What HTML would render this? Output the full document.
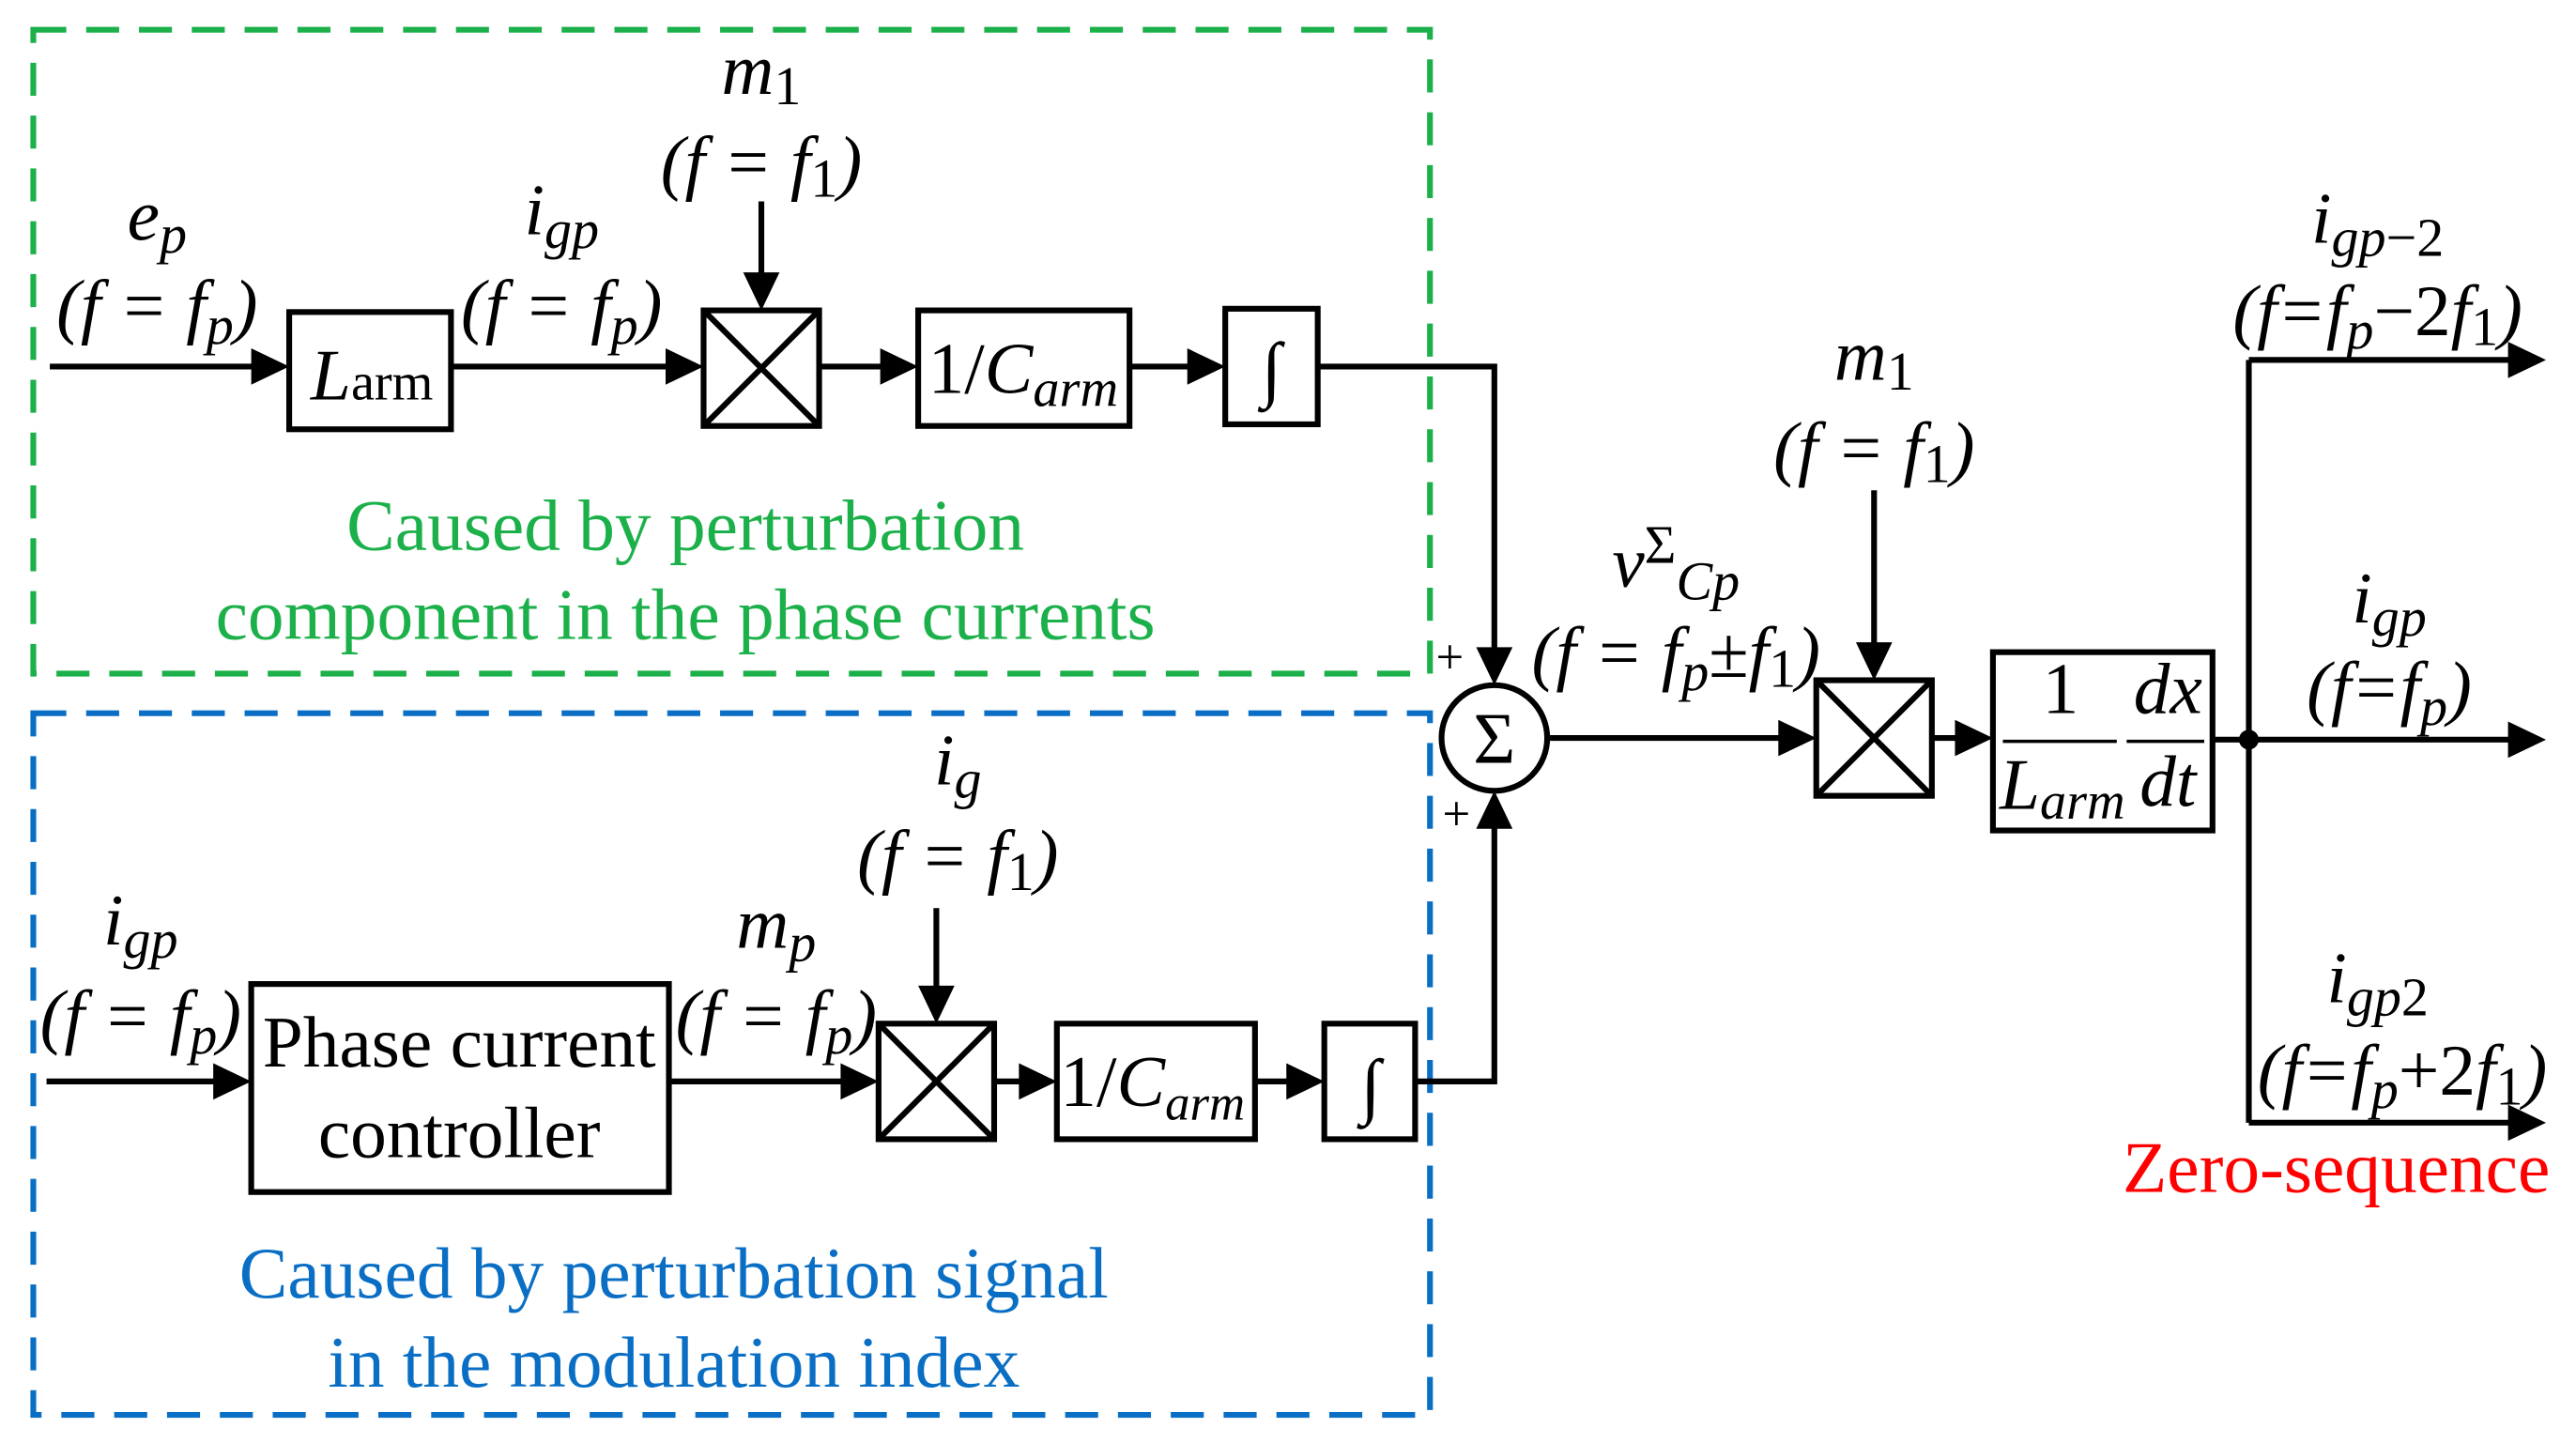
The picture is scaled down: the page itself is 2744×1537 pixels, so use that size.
<!DOCTYPE html>
<html><head><meta charset="utf-8"><style>
html,body{margin:0;padding:0;background:#fff;}
svg{display:block;}
text{font-family:"Liberation Serif",serif;}
.l{font-size:44px;font-style:italic;}
.n{font-size:44px;}
</style></head><body>
<svg width="2744" height="1537" viewBox="0 0 1560 874" xmlns="http://www.w3.org/2000/svg">
<rect width="1560" height="874" fill="#fff"/>
<rect x="20" y="18" width="846" height="390" fill="none" stroke="#1cb04a" stroke-width="3.5" stroke-dasharray="20,12"/>
<rect x="20" y="432" width="846" height="425" fill="none" stroke="#0a6fc4" stroke-width="3.5" stroke-dasharray="20,12"/>

<g stroke="#000" stroke-width="3.5" fill="none">
<line x1="30" y1="222" x2="160" y2="222"/>
<rect x="175" y="189" width="98" height="71"/>
<line x1="273" y1="222" x2="412" y2="222"/>
<rect x="426" y="188" width="70" height="70"/>
<line x1="426" y1="188" x2="496" y2="258"/><line x1="496" y1="188" x2="426" y2="258"/>
<line x1="461" y1="122" x2="461" y2="175"/>
<line x1="496" y1="222" x2="542" y2="222"/>
<rect x="556" y="188" width="128" height="70"/>
<line x1="684" y1="222" x2="728" y2="222"/>
<rect x="742" y="187" width="56" height="70"/>
<polyline points="798,222 905,222 905,400"/>
<line x1="28" y1="655" x2="138" y2="655"/>
<rect x="152" y="596" width="253" height="126"/>
<line x1="405" y1="655" x2="517" y2="655"/>
<rect x="532" y="620" width="70" height="70"/>
<line x1="532" y1="620" x2="602" y2="690"/><line x1="602" y1="620" x2="532" y2="690"/>
<line x1="567" y1="550" x2="567" y2="607"/>
<line x1="602" y1="655" x2="626" y2="655"/>
<rect x="640" y="620" width="120" height="70"/>
<line x1="760" y1="655" x2="788" y2="655"/>
<rect x="802" y="620" width="55" height="70"/>
<polyline points="857,655 905,655 905,494"/>
<circle cx="905" cy="447" r="32"/>
<line x1="937" y1="447" x2="1086" y2="447"/>
<rect x="1100" y="412" width="70" height="70"/>
<line x1="1100" y1="412" x2="1170" y2="482"/><line x1="1170" y1="412" x2="1100" y2="482"/>
<line x1="1135" y1="297" x2="1135" y2="398"/>
<line x1="1170" y1="447" x2="1193" y2="447"/>
<rect x="1207" y="395" width="133" height="108"/>
<line x1="1340" y1="448" x2="1525" y2="448"/>
<line x1="1362" y1="218" x2="1362" y2="680"/>
<line x1="1362" y1="218" x2="1525" y2="218"/>
<line x1="1362" y1="680" x2="1525" y2="680"/>
</g>
<g stroke="#000" stroke-width="2">
<line x1="1213" y1="449" x2="1282" y2="449"/>
<line x1="1288" y1="449" x2="1335" y2="449"/>
</g>
<circle cx="1362" cy="448" r="6" fill="#000"/>
<g fill="#000">
<polygon points="175,222 152,211 152,233"/>
<polygon points="426,222 403,211 403,233"/>
<polygon points="461,188 450,165 472,165"/>
<polygon points="556,222 533,211 533,233"/>
<polygon points="742,222 719,211 719,233"/>
<polygon points="905,415 894,392 916,392"/>
<polygon points="152,655 129,644 129,666"/>
<polygon points="532,655 509,644 509,666"/>
<polygon points="567,620 556,597 578,597"/>
<polygon points="640,655 617,644 617,666"/>
<polygon points="802,655 779,644 779,666"/>
<polygon points="905,479 894,502 916,502"/>
<polygon points="1100,447 1077,436 1077,458"/>
<polygon points="1135,412 1124,389 1146,389"/>
<polygon points="1207,447 1184,436 1184,458"/>
<polygon points="1542,448 1519,437 1519,459"/>
<polygon points="1542,218 1519,207 1519,229"/>
<polygon points="1542,680 1519,669 1519,691"/>
</g>
<text x="188" y="242" class="l">L<tspan font-style="normal" font-size="32">arm</tspan></text>
<text x="562" y="238" class="n">1/<tspan font-style="italic">C</tspan><tspan font-style="italic" font-size="32" dy="8">arm</tspan></text>
<text x="770" y="238" class="l" text-anchor="middle">∫</text>
<text x="642" y="670" class="n">1/<tspan font-style="italic">C</tspan><tspan font-style="italic" font-size="30" dy="8">arm</tspan></text>
<text x="830" y="672" class="l" text-anchor="middle">∫</text>
<text x="278" y="646" class="n" text-anchor="middle">Phase current</text>
<text x="278" y="701" class="n" text-anchor="middle">controller</text>
<text x="905" y="462" class="n" text-anchor="middle">Σ</text>
<text x="1248" y="432" class="n" text-anchor="middle">1</text>
<text x="1211" y="490" class="l">L<tspan font-size="32" dy="6">arm</tspan></text>
<text x="1313" y="432" class="l" text-anchor="middle">dx</text>
<text x="1313" y="488" class="l" text-anchor="middle">dt</text>
<text x="878" y="408" font-size="30" text-anchor="middle">+</text>
<text x="882" y="503" font-size="30" text-anchor="middle">+</text>
<text x="95" y="145" class="l" text-anchor="middle">e<tspan font-size="33" dy="8">p</tspan></text>
<text x="95" y="200" class="l" text-anchor="middle">(f = f<tspan font-size="33" dy="8">p</tspan><tspan dy="-8">)</tspan></text>
<text x="340" y="142" class="l" text-anchor="middle">i<tspan font-size="33" dy="8">gp</tspan></text>
<text x="340" y="200" class="l" text-anchor="middle">(f = f<tspan font-size="33" dy="8">p</tspan><tspan dy="-8">)</tspan></text>
<text x="461" y="57" class="l" text-anchor="middle">m<tspan font-style="normal" font-size="33" dy="6">1</tspan></text>
<text x="461" y="113" class="l" text-anchor="middle">(f = f<tspan font-style="normal" font-size="33" dy="6">1</tspan><tspan dy="-6">)</tspan></text>
<text x="580" y="475" class="l" text-anchor="middle">i<tspan font-size="33" dy="8">g</tspan></text>
<text x="580" y="533" class="l" text-anchor="middle">(f = f<tspan font-style="normal" font-size="33" dy="6">1</tspan><tspan dy="-6">)</tspan></text>
<text x="85" y="572" class="l" text-anchor="middle">i<tspan font-size="33" dy="8">gp</tspan></text>
<text x="85" y="630" class="l" text-anchor="middle">(f = f<tspan font-size="33" dy="8">p</tspan><tspan dy="-8">)</tspan></text>
<text x="470" y="574" class="l" text-anchor="middle">m<tspan font-size="33" dy="8">p</tspan></text>
<text x="470" y="630" class="l" text-anchor="middle">(f = f<tspan font-size="33" dy="8">p</tspan><tspan dy="-8">)</tspan></text>
<text x="1135" y="230" class="l" text-anchor="middle">m<tspan font-style="normal" font-size="33" dy="6">1</tspan></text>
<text x="1135" y="286" class="l" text-anchor="middle">(f = f<tspan font-style="normal" font-size="33" dy="6">1</tspan><tspan dy="-6">)</tspan></text>
<text x="1015" y="355" class="l" text-anchor="middle">v<tspan font-style="normal" font-size="33" dy="-14">Σ</tspan><tspan font-size="33" dy="22">Cp</tspan></text>
<text x="1015" y="410" class="l" text-anchor="middle">(f = f<tspan font-size="33" dy="8">p</tspan><tspan dy="-8" font-style="normal">±</tspan>f<tspan font-style="normal" font-size="33" dy="6">1</tspan><tspan dy="-6">)</tspan></text>
<text x="1440" y="147" class="l" text-anchor="middle">i<tspan font-size="33" dy="8">gp<tspan font-style="normal">−2</tspan></tspan></text>
<text x="1440" y="203" class="l" text-anchor="middle">(f=f<tspan font-size="33" dy="8">p</tspan><tspan dy="-8" font-style="normal">−2</tspan>f<tspan font-style="normal" font-size="33" dy="6">1</tspan><tspan dy="-6">)</tspan></text>
<text x="1447" y="377" class="l" text-anchor="middle">i<tspan font-size="33" dy="8">gp</tspan></text>
<text x="1447" y="431" class="l" text-anchor="middle">(f=f<tspan font-size="33" dy="8">p</tspan><tspan dy="-8">)</tspan></text>
<text x="1440" y="607" class="l" text-anchor="middle">i<tspan font-size="33" dy="8">gp<tspan font-style="normal">2</tspan></tspan></text>
<text x="1455" y="663" class="l" text-anchor="middle">(f=f<tspan font-size="33" dy="8">p</tspan><tspan dy="-8" font-style="normal">+2</tspan>f<tspan font-style="normal" font-size="33" dy="6">1</tspan><tspan dy="-6">)</tspan></text>
<text x="1415" y="722" class="n" fill="#ff0000" text-anchor="middle">Zero-sequence</text>
<text x="415" y="333" class="n" fill="#1cb04a" text-anchor="middle">Caused by perturbation</text>
<text x="415" y="387" class="n" fill="#1cb04a" text-anchor="middle">component in the phase currents</text>
<text x="408" y="786" class="n" fill="#0a6fc4" text-anchor="middle">Caused by perturbation signal</text>
<text x="408" y="840" class="n" fill="#0a6fc4" text-anchor="middle">in the modulation index</text>
</svg>
</body></html>
